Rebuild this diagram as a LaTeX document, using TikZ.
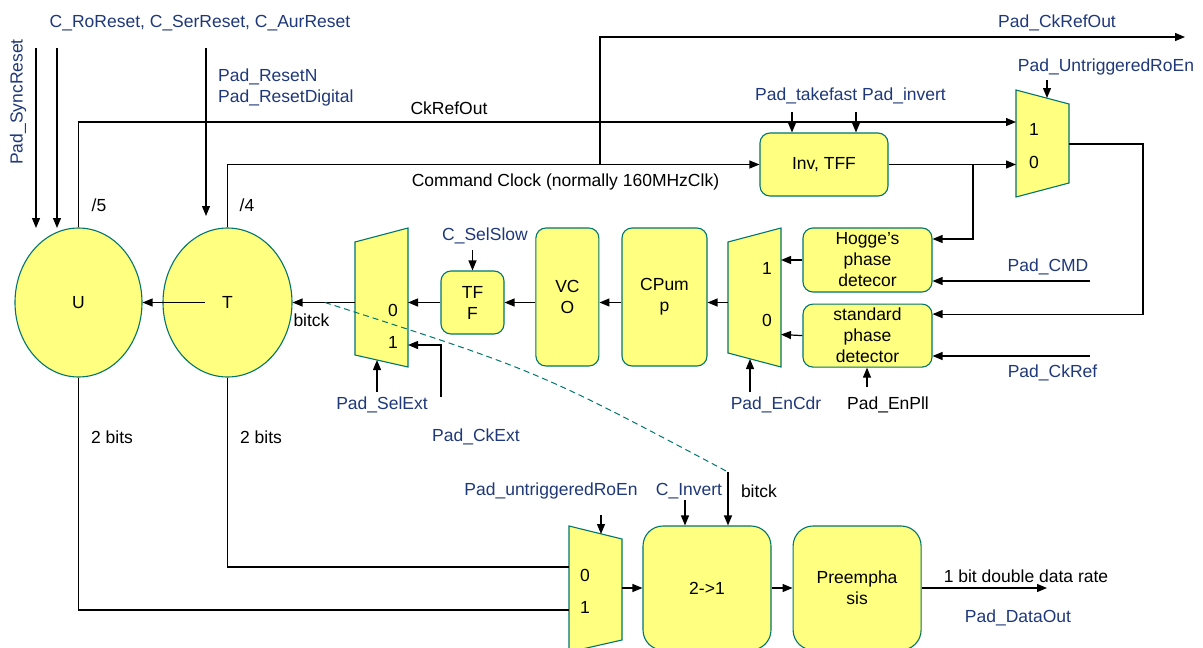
\documentclass[tikz,border=0pt]{standalone}
\usepackage{fontspec}
\setmainfont{Liberation Sans}
\usetikzlibrary{positioning,arrows.meta,shapes.geometric}
\definecolor{padblue}{RGB}{31,56,122}
\definecolor{blockfill}{RGB}{255,255,128}
\definecolor{blockline}{RGB}{0,118,108}

\begin{document}
\begin{tikzpicture}[x=1pt, y=-1pt,
  every node/.style={font=\fontsize{17.5}{21}\selectfont, inner sep=0pt},
  block/.style={rounded corners=10pt, draw=blockline, fill=blockfill, line width=1.1pt, align=center},
  bigblock/.style={block, rounded corners=20pt, minimum width=128pt, minimum height=124pt},
  blob/.style={ellipse, draw=blockline, fill=blockfill, line width=1.1pt},
  mux/.style={draw=blockline, fill=blockfill, line width=1.1pt},
  pad/.style={text=padblue},
  ar/.style={-{Triangle[length=10pt,width=8pt]}, line width=1.2pt},
  wire/.style={line width=1.2pt},
  clk/.style={dash pattern=on 6pt off 4pt, draw=blockline, line width=1pt}
]
\useasboundingbox (0,0) rectangle (1203,648);

% counters and blocks
\node[blob, minimum width=127pt, minimum height=149pt] (U) at (78.5,302.5) {U};
\node[blob, minimum width=129pt, minimum height=149pt] (T) at (227.5,302.5) {T};
\node[block, minimum width=128pt, minimum height=63pt] (invtff) at (824,164.5) {Inv, TFF};
\node[block, minimum width=129pt, minimum height=64pt] (hogge) at (867.5,260) {Hogge’s\\phase\\detecor};
\node[block, minimum width=129pt, minimum height=63pt, below=11pt of hogge] (stdpd) {standard\\phase\\detector};
\node[block, minimum width=85pt, minimum height=138pt] (cpump) at (664.5,297) {CPum\\p};
\node[block, minimum width=63pt, minimum height=138pt, left=22pt of cpump] (vco) {VC\\O};
\node[block, minimum width=63pt, minimum height=63pt] (tff) at (472.5,302.5) {TF\\F};
\node[bigblock] (ser) at (707,588) {2->1};
\node[bigblock, right=21pt of ser] (preemph) {Preempha\\sis};

% muxes
\filldraw[mux] (1016,90) -- (1069,104) -- (1069,183) -- (1016,197) -- cycle;
\filldraw[mux] (728,242) -- (781,228) -- (781,367) -- (728,353) -- cycle;
\filldraw[mux] (355,242) -- (408,228) -- (408,367) -- (355,355) -- cycle;
\filldraw[mux] (569,526) -- (622,539) -- (622,640) -- (569,652) -- cycle;
\node (m1one) at (1034,129) {1};
\node (m1zero) at (1034,162) {0};
\node (m2one) at (767,268) {1};
\node (m2zero) at (767,320) {0};
\node (m3zero) at (393,310) {0};
\node (m3one) at (393,342) {1};
\node (m4zero) at (585,575) {0};
\node (m4one) at (585,607) {1};
\coordinate (m1in1) at (1016,122);
\coordinate (m1in0) at (1016,164.5);
\coordinate (m1out) at (1069,144);
\coordinate (m1sel) at (1047,98);
\coordinate (m2in1) at (781,260);
\coordinate (m2in0) at (781,334.5);
\coordinate (m2out) at (728,302.5);
\coordinate (m2sel) at (750,359);
\coordinate (m3in0) at (408,302.5);
\coordinate (m3in1) at (408,345);
\coordinate (m3out) at (355,302.5);
\coordinate (m3sel) at (377,360);
\coordinate (m4in0) at (569,567);
\coordinate (m4in1) at (569,610);
\coordinate (m4out) at (622,588);
\coordinate (m4sel) at (601,534);

% labels
\node[pad] (rstlbl) at (200,23) {C\_RoReset, C\_SerReset, C\_AurReset};
\node[pad, rotate=90] (synclbl) at (18,102) {Pad\_SyncReset};
\node[pad, align=left, anchor=west] (resetlbl) at (218,87.5) {Pad\_ResetN\\Pad\_ResetDigital};
\node[pad] (ckoutlbl) at (1057,23) {Pad\_CkRefOut};
\node[pad] (tflbl) at (850.5,96) {Pad\_takefast Pad\_invert};
\node[pad] (untriglbl) at (1106,67) {Pad\_UntriggeredRoEn};
\node[pad] (selslowlbl) at (485,236) {C\_SelSlow};
\node[pad] (cmdlbl) at (1048,267) {Pad\_CMD};
\node[pad] (ckreflbl) at (1052.5,373) {Pad\_CkRef};
\node[pad] (selextlbl) at (382,405) {Pad\_SelExt};
\node[pad] (ckextlbl) at (476,437) {Pad\_CkExt};
\node[pad] (encdrlbl) at (776,405) {Pad\_EnCdr};
\node[pad] (untrigtwolbl) at (551,491) {Pad\_untriggeredRoEn};
\node[pad] (cinvlbl) at (689,491) {C\_Invert};
\node[pad] (doutlbl) at (1018,618) {Pad\_DataOut};
\node (enplllbl) at (888,405) {Pad\_EnPll};
\node (divfive) at (99,205) {/5};
\node (divfour) at (247,205) {/4};
\node (ckreflbl2) at (449,108) {CkRefOut};
\node (cmdclklbl) at (565.5,182) {Command Clock (normally 160MHzClk)};
\node (bitcklbl) at (311.5,320) {bitck};
\node (ubits) at (112,437) {2 bits};
\node (tbits) at (261,437) {2 bits};
\node (bitcktwolbl) at (759,491) {bitck};
\node (ddrlbl) at (1026,576) {1 bit double data rate};

% free ends
\coordinate (syncin) at (36,48);
\coordinate (syncend) at (36,228);
\coordinate (roin) at (57,48);
\coordinate (roend) at (57,228);
\coordinate (rstin) at (206,48);
\coordinate (rstend) at (206,216);
\coordinate (jclk) at (600,164.5);
\coordinate (ckout) at (1185,37);
\coordinate (tfin) at (792,112);
\coordinate (invin) at (856,112);
\coordinate (untrigin) at (1047,80);
\coordinate (jinv) at (973,164.5);
\coordinate (m1turn) at (1143,144);
\coordinate (cmdin) at (1090,281);
\coordinate (ckrefin) at (1090,356);
\coordinate (enpllin) at (867,387);
\coordinate (encdrin) at (750,392);
\coordinate (selslowin) at (472.5,250);
\coordinate (ckextin) at (441,397);
\coordinate (selextin) at (377,392);
\coordinate (tsrc) at (205,302.5);
\coordinate (untrigtwoin) at (601,515);
\coordinate (cinvin) at (685,500);
\coordinate (bitckin) at (728,472);
\coordinate (bitjoin) at (325,302.5);
\coordinate (dout) at (1047,588);

% connections
\draw[ar] (syncin) -- (syncend);
\draw[ar] (roin) -- (roend);
\draw[ar] (rstin) -- (rstend);
\draw[ar] (U.north) |- (m1in1);
\draw[ar] (T.north) |- (invtff.west);
\draw[ar] (jclk) |- (ckout);
\draw[ar] (tfin) -- (tfin |- invtff.north);
\draw[ar] (invin) -- (invin |- invtff.north);
\draw[ar] (untrigin) -- (m1sel);
\draw[ar] (invtff.east) -- (m1in0);
\draw[ar] (jinv) |- ([yshift=21pt]hogge.east);
\draw[ar] (m1out) -- (m1turn) |- ([yshift=21.5pt]stdpd.east);
\draw[ar] (cmdin) -- (cmdin -| hogge.east);
\draw[ar] (ckrefin) -- (ckrefin -| stdpd.east);
\draw[ar] (enpllin) -- (enpllin |- stdpd.south);
\draw[ar] (hogge.west) -- (m2in1);
\draw[ar] (stdpd.west) -- (m2in0);
\draw[ar] (encdrin) -- (m2sel);
\draw[ar] (m2out) -- (m2out -| cpump.east);
\draw[ar] (m2out -| cpump.west) -- (m2out -| vco.east);
\draw[ar] (m2out -| vco.west) -- (tff.east);
\draw[ar] (selslowin) -- (tff.north);
\draw[ar] (tff.west) -- (m3in0);
\draw[ar] (ckextin) |- (m3in1);
\draw[ar] (selextin) -- (m3sel);
\draw[ar] (m3out) -- (T.east);
\draw[ar] (tsrc) -- (U.east);
\draw[wire] (U.south) |- (m4in1);
\draw[wire] (T.south) |- (m4in0);
\draw[ar] (untrigtwoin) -- (m4sel);
\draw[ar] (m4out) -- (ser.west);
\draw[ar] (cinvin) -- (cinvin |- ser.north);
\draw[ar] (bitckin) -- (bitckin |- ser.north);
\draw[clk] (bitjoin) .. controls (538,371) .. (bitckin);
\draw[ar] (ser) -- (preemph);
\draw[ar] (preemph.east) -- (dout);
\end{tikzpicture}
\end{document}
